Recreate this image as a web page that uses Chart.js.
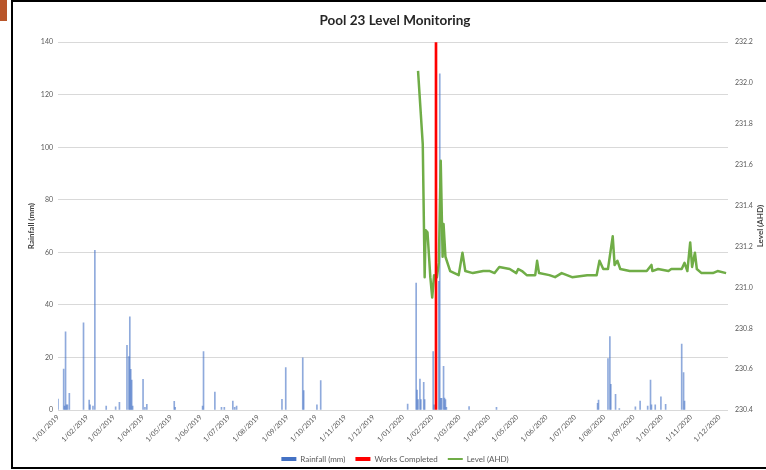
<!DOCTYPE html>
<html lang="en">
<head>
  <meta charset="UTF-8" />
  <title>Pool 23 Level Monitoring</title>
  <script src="https://cdn.jsdelivr.net/npm/chart.js@4.4.1/dist/chart.umd.min.js"></script>
  <style>
    html, body { margin: 0; padding: 0; background: #fff; }
    #wrap { position: relative; width: 766px; height: 470px; overflow: hidden; }
    #frame {
      position: absolute; left: 11px; top: 0; width: 760px; height: 465px;
      border: 2px solid #000; border-right: none; pointer-events: none;
    }
    #tab { position: absolute; left: 0; top: 0; width: 7px; height: 21px; background: #b9562b; }
  </style>
</head>
<body>
  <div id="wrap">
    <canvas id="levelChart" width="766" height="470"></canvas>
    <div id="frame"></div>
    <div id="tab"></div>
  </div>

  <script>
    const tickLabels = [
      '1/01/2019','1/02/2019','1/03/2019','1/04/2019','1/05/2019','1/06/2019',
      '1/07/2019','1/08/2019','1/09/2019','1/10/2019','1/11/2019','1/12/2019',
      '1/01/2020','1/02/2020','1/03/2020','1/04/2020','1/05/2020','1/06/2020',
      '1/07/2020','1/08/2020','1/09/2020','1/10/2020','1/11/2020','1/12/2020'
    ];

    // daily rainfall (mm)
    const rainDates = [
      '2019-01-01','2019-01-07','2019-01-08','2019-01-09','2019-01-10','2019-01-11','2019-01-13',
      '2019-01-28','2019-02-03','2019-02-04','2019-02-07','2019-02-09','2019-02-21',
      '2019-03-03','2019-03-07','2019-03-15','2019-03-17','2019-03-18','2019-03-19','2019-03-20','2019-03-21',
      '2019-04-01','2019-04-03','2019-04-05','2019-05-04','2019-05-05',
      '2019-06-03','2019-06-04','2019-06-16','2019-06-23','2019-06-26',
      '2019-07-05','2019-07-07','2019-07-09','2019-08-26','2019-08-30',
      '2019-09-17','2019-09-18','2019-10-02','2019-10-06',
      '2020-01-06','2020-01-15','2020-01-16','2020-01-17','2020-01-19','2020-01-20','2020-01-23','2020-01-24',
      '2020-02-02','2020-02-03','2020-02-08','2020-02-09','2020-02-10','2020-02-11','2020-02-13',
      '2020-02-14','2020-02-15','2020-02-16','2020-03-11','2020-04-09',
      '2020-07-25','2020-07-26','2020-08-05','2020-08-07','2020-08-08','2020-08-13','2020-08-17',
      '2020-09-03','2020-09-08','2020-09-16','2020-09-19','2020-09-20','2020-09-24','2020-09-30',
      '2020-10-05','2020-10-22','2020-10-24','2020-10-25'
    ];
    const rainMm = [
      4.2, 15.6, 1.5, 29.8, 2, 2, 6.3,
      33.2, 3.8, 2, 1.5, 60.8, 1.5,
      1.2, 2.9, 24.6, 20.3, 35.5, 15.5, 11.4, 1.5,
      11.7, 1, 2.2, 3.3, 1,
      1.5, 22.2, 6.8, 1, 1,
      3.4, 1, 1.5, 4.1, 16.1,
      19.9, 7.4, 2, 11.2,
      2.3, 48.3, 7.6, 4, 11.8, 4, 10.5, 4,
      22.2, 2, 49, 128, 4.4, 4.4, 16.6,
      4.5, 4, 1, 1.3, 1,
      2.5, 3.8, 19.6, 27.9, 9.8, 6, 0.5,
      1.2, 3.4, 1.5, 11.4, 2, 2, 5,
      2.2, 25.1, 14.2, 3.4
    ];

    const worksDates = ['2020-02-05'];
    const worksMark = [140];

    // pool level (m AHD)
    const levelDates = [
      '2020-01-17','2020-01-22','2020-01-24','2020-01-25','2020-01-27','2020-01-30','2020-02-01',
      '2020-02-03','2020-02-06','2020-02-08','2020-02-10','2020-02-12','2020-02-13','2020-02-15',
      '2020-02-20','2020-02-29','2020-03-04','2020-03-07','2020-03-15','2020-03-26','2020-04-02',
      '2020-04-07','2020-04-12','2020-04-23','2020-04-30','2020-05-02','2020-05-06','2020-05-11',
      '2020-05-20','2020-05-22','2020-05-24','2020-06-04','2020-06-10','2020-06-17','2020-06-28',
      '2020-07-14','2020-07-24','2020-07-27','2020-07-31','2020-08-05','2020-08-10','2020-08-12',
      '2020-08-15','2020-08-18','2020-08-28','2020-09-15','2020-09-20','2020-09-21','2020-09-27',
      '2020-10-08','2020-10-11','2020-10-22','2020-10-25','2020-10-28','2020-10-31','2020-11-02',
      '2020-11-05','2020-11-07','2020-11-12','2020-11-24','2020-11-29','2020-12-08'
    ];
    const levelAhd = [
      232.06, 231.70, 231.05, 231.28, 231.27, 231.05, 230.95,
      231.06, 231.05, 231.12, 231.62, 231.15, 231.31, 231.15,
      231.08, 231.06, 231.17, 231.08, 231.07, 231.08, 231.08,
      231.07, 231.10, 231.09, 231.07, 231.09, 231.08, 231.06,
      231.06, 231.13, 231.07, 231.06, 231.05, 231.07, 231.05,
      231.06, 231.06, 231.13, 231.09, 231.09, 231.25, 231.11,
      231.13, 231.09, 231.08, 231.08, 231.11, 231.08, 231.09,
      231.08, 231.09, 231.09, 231.12, 231.08, 231.22, 231.10,
      231.17, 231.09, 231.07, 231.07, 231.08, 231.07
    ];

    const origin = Date.UTC(2019, 0, 1);
    const dayOf = s => (Date.parse(s) - origin) / 86400000;
    const dayOfLabel = l => {
      const [d, m, y] = l.split('/').map(Number);
      return (Date.UTC(y, m - 1, d) - origin) / 86400000;
    };
    const points = (dates, vals) => dates.map((d, i) => ({ x: dayOf(d), y: vals[i] }));

    const grey = '#595959';
    const tickFont = { family: 'Lato', size: 7 };

    // secondary axis title reads bottom-to-top like the primary one
    const rightTitle = {
      id: 'rightTitle',
      afterDraw(chart) {
        const { ctx, chartArea } = chart;
        ctx.save();
        ctx.font = 'bold 8px Lato';
        ctx.fillStyle = '#404040';
        ctx.textAlign = 'center';
        ctx.textBaseline = 'middle';
        ctx.translate(chart.width - 6, (chartArea.top + chartArea.bottom) / 2);
        ctx.rotate(-Math.PI / 2);
        ctx.fillText('Level (AHD)', 0, 0);
        ctx.restore();
      }
    };

    new Chart(document.getElementById('levelChart'), {
      type: 'bar',
      data: {
        datasets: [
          {
            label: 'Rainfall (mm)',
            data: points(rainDates, rainMm),
            backgroundColor: 'rgba(68, 114, 196, 0.6)',
            barThickness: 1,
            stack: 'rain',
            yAxisID: 'y',
            pointStyle: 'rect',
            order: 3
          },
          {
            label: 'Works Completed',
            data: points(worksDates, worksMark),
            backgroundColor: '#FF0000',
            barThickness: 2,
            stack: 'rain',
            yAxisID: 'y',
            pointStyle: 'rect',
            order: 1
          },
          {
            type: 'line',
            label: 'Level (AHD)',
            data: points(levelDates, levelAhd),
            borderColor: '#70AD47',
            borderWidth: 2.5,
            borderJoinStyle: 'round',
            pointRadius: 0,
            pointHoverRadius: 0,
            pointStyle: 'line',
            pointBorderColor: '#70AD47',
            pointBorderWidth: 2,
            yAxisID: 'y1',
            order: 2
          }
        ]
      },
      options: {
        responsive: false,
        animation: false,
        devicePixelRatio: 1,
        layout: { padding: { left: 24, right: 0, top: 0, bottom: -3 } },
        plugins: {
          title: {
            display: true,
            text: 'Pool 23 Level Monitoring',
            color: '#262626',
            font: { family: 'Lato', size: 13.5, weight: 'bold' },
            padding: { top: 13, bottom: 13 }
          },
          legend: {
            position: 'bottom',
            labels: {
              usePointStyle: true,
              pointStyleWidth: 15,
              boxHeight: 4,
              padding: 10,
              color: grey,
              font: { family: 'Lato', size: 8 },
              sort: (a, b) => a.datasetIndex - b.datasetIndex,
              // solid swatch for the rainfall series
              generateLabels: chart => Chart.defaults.plugins.legend.labels.generateLabels(chart)
                .map(it => it.datasetIndex === 0 ? { ...it, fillStyle: '#4472C4' } : it)
            }
          },
          tooltip: { enabled: false }
        },
        scales: {
          x: {
            type: 'linear',
            min: 0,
            max: 709,
            offset: false,
            grid: { display: false, drawTicks: false, offset: false },
            border: { display: false },
            afterBuildTicks: s => { s.ticks = tickLabels.map(l => ({ value: dayOfLabel(l) })); },
            afterFit: s => { s.height = 35; },
            ticks: {
              autoSkip: false,
              maxRotation: 45,
              minRotation: 45,
              padding: 3,
              color: grey,
              font: tickFont,
              callback: (v, i) => tickLabels[i]
            }
          },
          y: {
            position: 'left',
            min: 0,
            max: 140,
            ticks: { stepSize: 20, padding: 5, color: grey, font: tickFont },
            grid: { color: '#D9D9D9', drawTicks: false },
            border: { display: false },
            title: {
              display: true,
              text: 'Rainfall (mm)',
              color: '#404040',
              font: { family: 'Lato', size: 8, weight: 'bold' },
              padding: { top: 3, bottom: 0 }
            },
            afterFit: s => { s.width = 34; }
          },
          y1: {
            position: 'right',
            min: 230.4,
            max: 232.2,
            ticks: { stepSize: 0.2, padding: 7, color: grey, font: tickFont },
            grid: { display: false, drawTicks: false },
            border: { display: false },
            afterFit: s => { s.width = 38; }
          }
        }
      },
      plugins: [rightTitle]
    });
  </script>
</body>
</html>
